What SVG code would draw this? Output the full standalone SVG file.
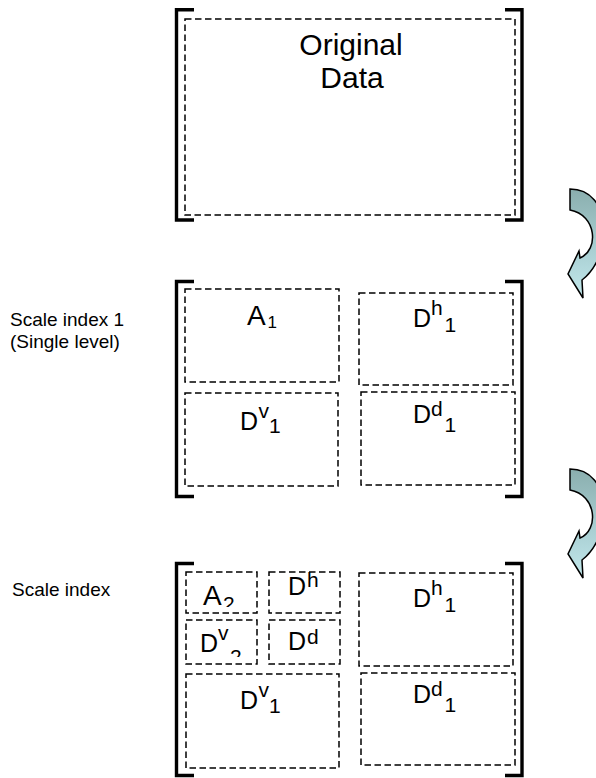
<svg xmlns="http://www.w3.org/2000/svg" width="596" height="778" viewBox="0 0 596 778">
  <style>
    .bracket { fill: none; stroke: #000; stroke-width: 3.4; stroke-linecap: butt; stroke-linejoin: miter; }
    .cell { fill: none; stroke: #000; stroke-width: 1.5; stroke-dasharray: 6.5 3.5; }
    .lbl { font-family: "Liberation Sans", Arial, sans-serif; fill: #000; }
    .big { font-size: 30px; }
    .main { font-size: 25px; }
    .mini { font-size: 21px; }
    .side { font-size: 19px; }
    .turn { fill: url(#turnFill); stroke: #000; stroke-width: 1.5; stroke-linejoin: miter; }
  </style>
  <defs>
    <linearGradient id="turnFill" x1="0" y1="0" x2="0" y2="1">
      <stop offset="0" stop-color="#8aaeae"/>
      <stop offset="0.5" stop-color="#a6cccf"/>
      <stop offset="1" stop-color="#c2e8ec"/>
    </linearGradient>
    <clipPath id="clipA2"><rect x="180" y="560" width="90" height="47"/></clipPath>
    <clipPath id="clipDv2"><rect x="180" y="615" width="90" height="42"/></clipPath>
    <path id="turnShape" d="M570,189 C612,189 614,255 582,280 L583,298 L568,274 L579,251 L580,258 C599,250 597,215 570,210 Z"/>
  </defs>

  <!-- Level 0: original data -->
  <g id="original">
    <path class="bracket" d="M194,9.7 H176.5 V220 H194"/>
    <path class="bracket" d="M505,9.7 H522 V220 H505"/>
    <rect class="cell" x="185" y="19" width="330" height="196"/>
    <text class="lbl big" x="351" y="55" text-anchor="middle">Original</text>
    <text class="lbl big" x="352" y="88" text-anchor="middle">Data</text>
  </g>

  <!-- Level 1: single-level decomposition -->
  <g id="label-level1">
    <text class="lbl side" x="10" y="326">Scale index 1</text>
    <text class="lbl side" x="10" y="348">(Single level)</text>
  </g>
  <g id="level1">
    <path class="bracket" d="M194,281.5 H176.5 V496.5 H194"/>
    <path class="bracket" d="M505,281.5 H522 V496.5 H505"/>
  </g>
  <g id="l1-A1">
    <rect class="cell" x="185" y="289" width="154" height="93"/>
    <text class="lbl" x="247" y="325" font-size="28">A</text>
    <text class="lbl" x="267.5" y="328" font-size="17">1</text>
  </g>
  <g id="l1-Dv1">
    <rect class="cell" x="185" y="393" width="153" height="93"/>
    <text class="lbl main" x="240" y="430">D</text>
    <text class="lbl mini" x="258.5" y="418">v</text>
    <text class="lbl mini" x="269" y="433">1</text>
  </g>
  <g id="l1-Dh1">
    <rect class="cell" x="359" y="293" width="154" height="92"/>
    <text class="lbl main" x="413" y="327">D</text>
    <text class="lbl mini" x="431" y="315">h</text>
    <text class="lbl mini" x="444.5" y="332">1</text>
  </g>
  <g id="l1-Dd1">
    <rect class="cell" x="361" y="392" width="154" height="93"/>
    <text class="lbl main" x="413" y="423">D</text>
    <text class="lbl mini" x="431" y="416">d</text>
    <text class="lbl mini" x="444.5" y="432">1</text>
  </g>

  <!-- Level 2: second decomposition of the approximation -->
  <g id="label-level2">
    <text class="lbl side" x="12" y="596">Scale index</text>
  </g>
  <g id="level2">
    <path class="bracket" d="M194,563.5 H176.5 V775.5 H194"/>
    <path class="bracket" d="M505,563.5 H522 V775.5 H505"/>
  </g>
  <g id="l2-A2">
    <rect class="cell" x="186" y="572" width="71" height="41"/>
    <text class="lbl" x="203" y="605" font-size="28">A</text>
    <text class="lbl mini" x="223" y="611" clip-path="url(#clipA2)">2</text>
  </g>
  <g id="l2-Dh">
    <rect class="cell" x="269" y="572" width="71" height="41"/>
    <text class="lbl main" x="288" y="595">D</text>
    <text class="lbl mini" x="307" y="587">h</text>
  </g>
  <g id="l2-Dv2">
    <rect class="cell" x="186" y="620" width="71" height="44"/>
    <text class="lbl main" x="200" y="652">D</text>
    <text class="lbl mini" x="218" y="640">v</text>
    <text class="lbl mini" x="230" y="664" clip-path="url(#clipDv2)">2</text>
  </g>
  <g id="l2-Dd">
    <rect class="cell" x="269" y="620" width="71" height="44"/>
    <text class="lbl main" x="288" y="650">D</text>
    <text class="lbl mini" x="307" y="644">d</text>
  </g>
  <g id="l2-Dv1">
    <rect class="cell" x="186" y="674" width="153" height="94"/>
    <text class="lbl main" x="240" y="709">D</text>
    <text class="lbl mini" x="258.5" y="697">v</text>
    <text class="lbl mini" x="269" y="713">1</text>
  </g>
  <g id="l2-Dh1">
    <rect class="cell" x="359" y="573" width="154" height="93"/>
    <text class="lbl main" x="413" y="607">D</text>
    <text class="lbl mini" x="431" y="595">h</text>
    <text class="lbl mini" x="444.5" y="612">1</text>
  </g>
  <g id="l2-Dd1">
    <rect class="cell" x="361" y="673" width="154" height="92"/>
    <text class="lbl main" x="413" y="703">D</text>
    <text class="lbl mini" x="431" y="696">d</text>
    <text class="lbl mini" x="444.5" y="712">1</text>
  </g>

  <!-- Curved arrows between levels -->
  <g id="connectors">
    <use href="#turnShape" class="turn"/>
    <use href="#turnShape" class="turn" transform="translate(0,280)"/>
  </g>
</svg>
